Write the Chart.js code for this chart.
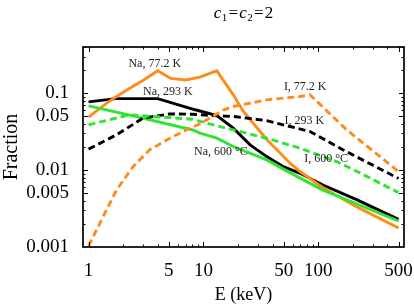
<!DOCTYPE html>
<html><head><meta charset="utf-8">
<script src="https://cdn.jsdelivr.net/npm/chart.js@4.4.1/dist/chart.umd.min.js"></script>
<style>html,body{margin:0;padding:0;background:#fff;overflow:hidden}</style>
</head><body>
<canvas id="c" width="414" height="307" style="width:414px;height:307px;display:block"></canvas>
<script>
// ---- data ----
const xTicks = [1, 5, 10, 50, 100, 500];
const xTickLabels = ['1', '5', '10', '50', '100', '500'];
const yTicks = [0.001, 0.005, 0.01, 0.05, 0.1];
const yTickLabels = ['0.001', '0.005', '0.01', '0.05', '0.1'];

const naColdE = [1, 1.5, 2.15, 3, 4, 5.2, 7, 9.3, 13.1, 18.2, 22.3, 35.6, 56.9, 69.4, 110, 219, 500];
const naColdF = [0.049, 0.078, 0.11, 0.148, 0.196, 0.156, 0.149, 0.162, 0.196, 0.0955, 0.058, 0.025, 0.0123, 0.0096, 0.0059, 0.0033, 0.00177];

const naRoomE = [1, 1.72, 4.0, 8.5, 13.1, 18.2, 25.5, 35.6, 49.7, 69.4, 110, 218, 500];
const naRoomF = [0.0773, 0.0852, 0.0852, 0.061, 0.0514, 0.0352, 0.0213, 0.015, 0.0111, 0.0091, 0.0064, 0.0041, 0.00229];

const naHotE = [1, 2.44, 8.1, 9.35, 13.1, 18.2, 35.6, 65, 110, 500];
const naHotF = [0.0686, 0.0509, 0.0333, 0.0303, 0.0261, 0.0203, 0.0136, 0.0083, 0.0055, 0.00218];

const iColdE = [1, 1.34, 1.75, 2.44, 3.41, 5.1, 7.6, 9.35, 14.9, 18.2, 35.6, 69.4, 84.8, 177, 500];
const iColdF = [0.00103, 0.00248, 0.0055, 0.0111, 0.0184, 0.026, 0.035, 0.040, 0.0605, 0.0673, 0.0822, 0.0908, 0.0955, 0.0334, 0.0096];

const iRoomE = [1, 1.75, 2.98, 5.1, 8.1, 12.1, 18.2, 35.6, 49.5, 84.8, 164, 500];
const iRoomF = [0.01875, 0.0288, 0.0475, 0.0539, 0.0533, 0.0513, 0.0499, 0.044, 0.0389, 0.0318, 0.0184, 0.0078];

const iHotE = [1, 2.28, 8.1, 9.35, 18.2, 35.6, 69.4, 145, 231, 500];
const iHotF = [0.0389, 0.0524, 0.046, 0.043, 0.0334, 0.026, 0.0193, 0.0129, 0.0092, 0.0051];

const curveLabels = ['Na, 77.2 K', 'Na, 293 K', 'Na, 600 °C', 'I, 77.2 K', 'I, 293 K', 'I, 600 °C'];
const labelE = [3.77, 4.9, 14.2, 77, 75.5, 117];
const labelF = [0.238, 0.103, 0.0171, 0.123, 0.0433, 0.0139];

const ORANGE = '#FF8C1A', BLACK = '#000000', GREEN = '#2FE52F';
const SERIF = '"Liberation Serif", "Times New Roman", serif';

function pts(E, F) { return E.map((e, i) => ({ x: e, y: F[i] })); }
function ds(E, F, color, dashed) {
  return {
    data: pts(E, F), borderColor: color, borderWidth: 2.9, pointRadius: 0,
    borderDash: dashed ? [7, 4] : [], fill: false, tension: 0, showLine: true
  };
}

const framePlugin = {
  id: 'frame',
  afterDatasetsDraw(chart) {
    const ctx = chart.ctx, a = chart.chartArea;
    const xs = chart.scales.x, ys = chart.scales.y;
    ctx.save();
    ctx.strokeStyle = '#000';
    ctx.lineWidth = 1.7;
    ctx.strokeRect(a.left, a.top, a.right - a.left, a.bottom - a.top);
    ctx.lineWidth = 1;
    const xMinor = [];
    [1, 10, 100].forEach(d => { for (let k = 2; k <= 9; k++) xMinor.push(k * d); });
    function xt(v, len) {
      const p = Math.round(xs.getPixelForValue(v)) + 0.5;
      if (p < a.left || p > a.right) return;
      ctx.beginPath();
      ctx.moveTo(p, a.bottom); ctx.lineTo(p, a.bottom - len);
      ctx.moveTo(p, a.top); ctx.lineTo(p, a.top + len);
      ctx.stroke();
    }
    xTicks.forEach(v => xt(v, 5));
    xMinor.filter(v => !xTicks.includes(v)).forEach(v => xt(v, 2.5));
    const yMinor = [];
    [0.001, 0.01, 0.1].forEach(d => { for (let k = 2; k <= 9; k++) yMinor.push(+(k * d).toPrecision(3)); });
    function yt(v, len) {
      const p = Math.round(ys.getPixelForValue(v)) + 0.5;
      if (p < a.top || p > a.bottom) return;
      ctx.beginPath();
      ctx.moveTo(a.left, p); ctx.lineTo(a.left + len, p);
      ctx.moveTo(a.right, p); ctx.lineTo(a.right - len, p);
      ctx.stroke();
    }
    yTicks.forEach(v => yt(v, 5));
    yMinor.filter(v => !yTicks.includes(v)).forEach(v => yt(v, 2.5));
    // curve labels
    ctx.fillStyle = '#222';
    ctx.font = '12px ' + SERIF;
    ctx.textAlign = 'center';
    ctx.textBaseline = 'middle';
    curveLabels.forEach((t, i) => {
      ctx.fillText(t, xs.getPixelForValue(labelE[i]), ys.getPixelForValue(labelF[i]));
    });
    // title c1=c2=2
    const parts = [
      ['c', 'italic 17px ' + SERIF, 0, 0.5], ['1', '11px ' + SERIF, 3, 1.2],
      ['=', '17px ' + SERIF, 0, 1.2], ['c', 'italic 17px ' + SERIF, 0, 0.5],
      ['2', '11px ' + SERIF, 3, 1.2], ['=', '17px ' + SERIF, 0, 1.2], ['2', '17px ' + SERIF, 0, 0]
    ];
    ctx.fillStyle = '#000';
    ctx.textAlign = 'left';
    ctx.textBaseline = 'alphabetic';
    let w = 0;
    parts.forEach(p => { ctx.font = p[1]; w += ctx.measureText(p[0]).width + p[3]; });
    let x = 243.5 - w / 2;
    parts.forEach(p => { ctx.font = p[1]; ctx.fillText(p[0], x, 17.5 + p[2]); x += ctx.measureText(p[0]).width + p[3]; });
    ctx.restore();
  }
};

new Chart(document.getElementById('c'), {
  type: 'scatter',
  data: {
    datasets: [
      ds(iColdE, iColdF, ORANGE, true),
      ds(iHotE, iHotF, GREEN, true),
      ds(iRoomE, iRoomF, BLACK, true),
      ds(naHotE, naHotF, GREEN, false),
      ds(naColdE, naColdF, ORANGE, false),
      ds(naRoomE, naRoomF, BLACK, false)
    ]
  },
  options: {
    responsive: false, animation: false, devicePixelRatio: 1,
    layout: { padding: { top: 47, right: 10, left: 0, bottom: 0 } },
    plugins: { legend: { display: false }, title: { display: false }, tooltip: { enabled: false } },
    scales: {
      x: {
        type: 'logarithmic', min: 0.895, max: 558, bounds: 'data',
        afterBuildTicks: s => { s.ticks = xTicks.map(v => ({ value: v })); },
        afterFit: s => { s.height = 60; s.paddingLeft = 0; s.paddingRight = 0; },
        ticks: {
          autoSkip: false, maxRotation: 0, minRotation: 0, padding: 5, color: '#000',
          font: { family: SERIF, size: 19 },
          callback: v => xTickLabels[xTicks.indexOf(v)]
        },
        grid: { display: false }, border: { display: false },
        title: { display: true, text: 'E (keV)', color: '#000', font: { family: SERIF, size: 18 }, padding: { top: 0, bottom: 1 } }
      },
      y: {
        type: 'logarithmic', min: 0.001, max: 0.4, bounds: 'data',
        afterBuildTicks: s => { s.ticks = yTicks.map(v => ({ value: v })); },
        afterFit: s => { s.width = 83; s.paddingTop = 0; s.paddingBottom = 0; },
        ticks: {
          autoSkip: false, padding: 6, color: '#000',
          font: { family: SERIF, size: 19 },
          callback: v => yTickLabels[yTicks.indexOf(v)]
        },
        grid: { display: false }, border: { display: false },
        title: { display: true, text: 'Fraction', color: '#000', font: { family: SERIF, size: 20 }, padding: { top: 0, bottom: 0 } }
      }
    }
  },
  plugins: [framePlugin]
});
</script>
</body></html>
